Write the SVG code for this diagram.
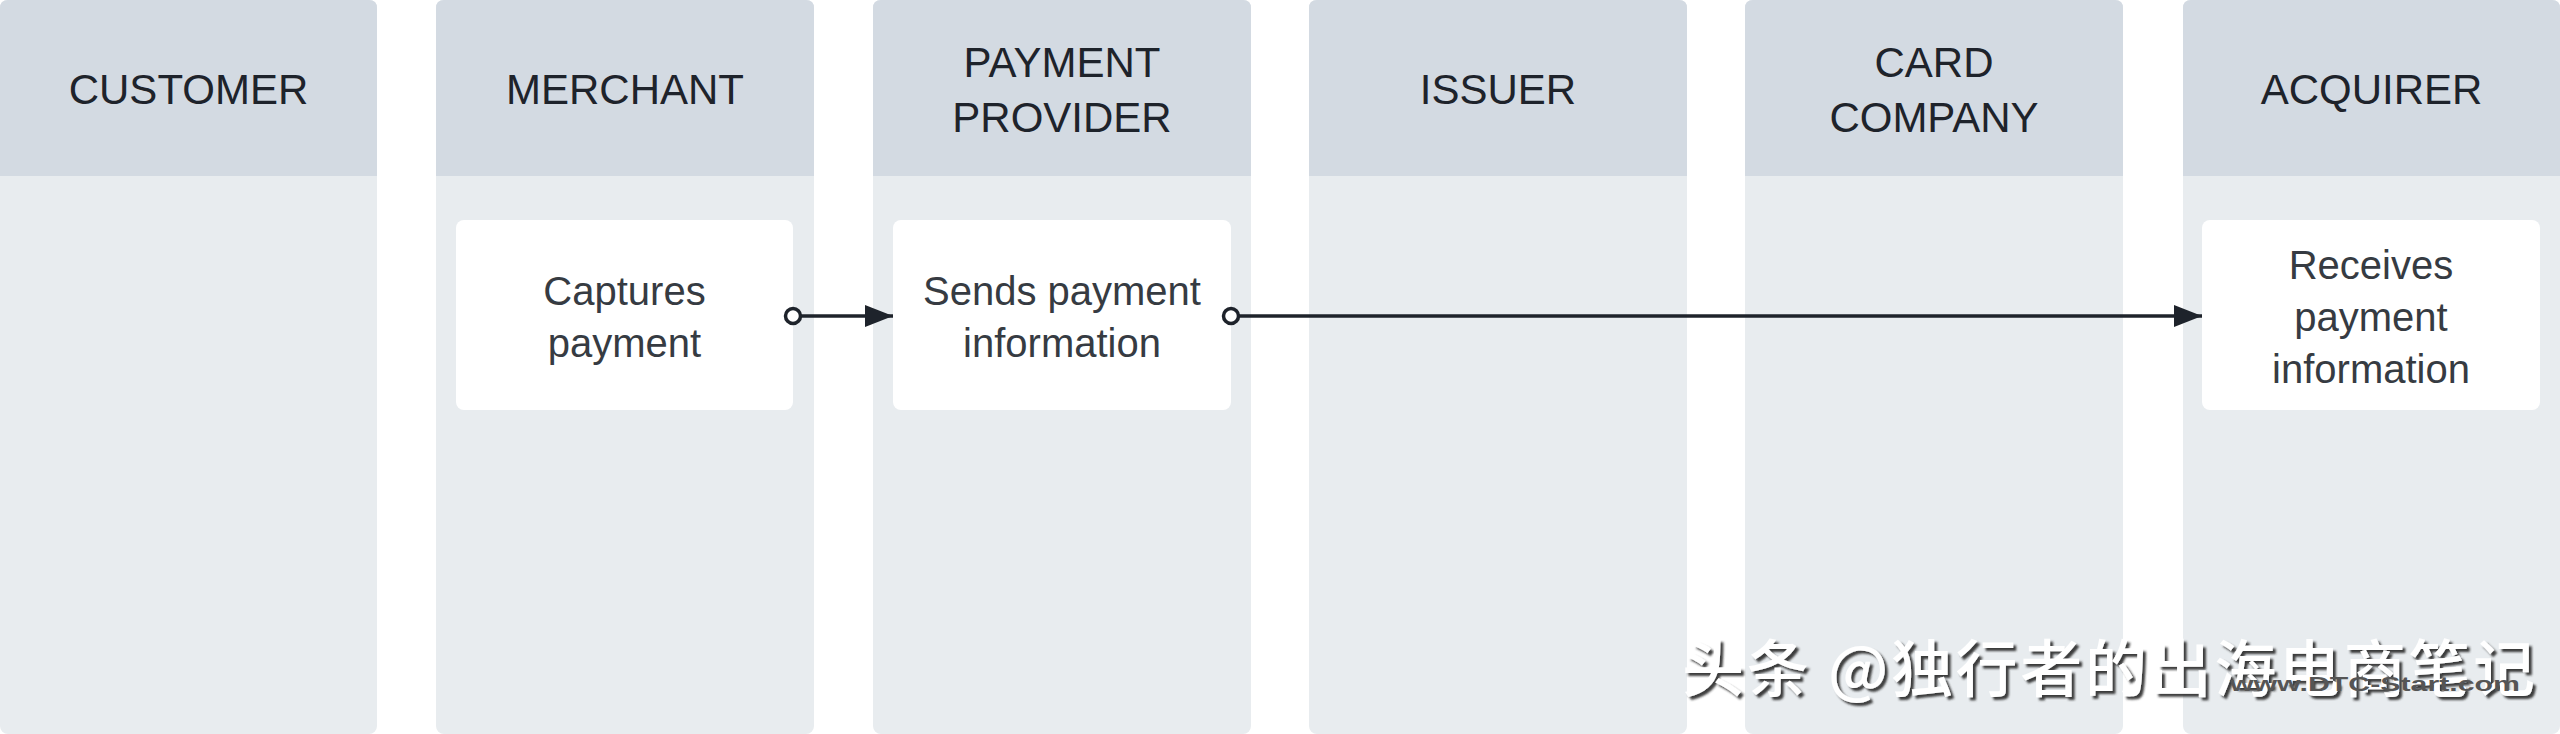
<svg xmlns="http://www.w3.org/2000/svg" width="2560" height="734" viewBox="0 0 2560 734">
  <style>
    .lane { fill: #E8ECEF; }
    .head { fill: #D3DAE2; }
    .htxt { font-family: "Liberation Sans", Arial, sans-serif; font-size: 42px; fill: #1E232B; text-anchor: middle; }
    .card { fill: #FFFFFF; }
    .ctxt { font-family: "Liberation Sans", Arial, sans-serif; font-size: 40px; fill: #363B42; text-anchor: middle; }
    .edge { stroke: #1E232B; stroke-width: 3.5; fill: none; }
    .dot { fill: #FFFFFF; stroke: #1E232B; stroke-width: 3.5; }
    .wm { font-family: "Noto Sans CJK SC", "Liberation Sans", sans-serif; font-size: 62px; font-weight: 500; fill: #FFFFFF; }
    .wm2 { font-family: "Liberation Sans", Arial, sans-serif; font-size: 21px; font-weight: 700; fill: #555555; }
  </style>
  <defs>
    <marker id="arrow" markerUnits="userSpaceOnUse" markerWidth="28" markerHeight="22" refX="28" refY="11" orient="auto">
      <path d="M0,0 L28,11 L0,22 Z" fill="#1E232B"/>
    </marker>
    <filter id="shadow" x="-5%" y="-20%" width="110%" height="150%">
      <feDropShadow dx="3" dy="3" stdDeviation="1" flood-color="#2A2A2A" flood-opacity="0.9"/>
    </filter>
  </defs>
  <rect width="2560" height="734" fill="#FFFFFF"/>

  <g id="lane-customer">
    <rect class="lane" x="0" y="0" width="377" height="734" rx="8"/>
    <path class="head" d="M0,176 V8 Q0,0 8,0 H369 Q377,0 377,8 V176 Z"/>
    <text class="htxt" x="188.5" y="104">CUSTOMER</text>
  </g>
  <g id="lane-merchant">
    <rect class="lane" x="436" y="0" width="378" height="734" rx="8"/>
    <path class="head" d="M436,176 V8 Q436,0 444,0 H806 Q814,0 814,8 V176 Z"/>
    <text class="htxt" x="625" y="104">MERCHANT</text>
  </g>
  <g id="lane-payment-provider">
    <rect class="lane" x="873" y="0" width="378" height="734" rx="8"/>
    <path class="head" d="M873,176 V8 Q873,0 881,0 H1243 Q1251,0 1251,8 V176 Z"/>
    <text class="htxt" x="1062" y="77">PAYMENT</text>
    <text class="htxt" x="1062" y="132">PROVIDER</text>
  </g>
  <g id="lane-issuer">
    <rect class="lane" x="1309" y="0" width="378" height="734" rx="8"/>
    <path class="head" d="M1309,176 V8 Q1309,0 1317,0 H1679 Q1687,0 1687,8 V176 Z"/>
    <text class="htxt" x="1498" y="104">ISSUER</text>
  </g>
  <g id="lane-card-company">
    <rect class="lane" x="1745" y="0" width="378" height="734" rx="8"/>
    <path class="head" d="M1745,176 V8 Q1745,0 1753,0 H2115 Q2123,0 2123,8 V176 Z"/>
    <text class="htxt" x="1934" y="77">CARD</text>
    <text class="htxt" x="1934" y="132">COMPANY</text>
  </g>
  <g id="lane-acquirer">
    <rect class="lane" x="2183" y="0" width="377" height="734" rx="8"/>
    <path class="head" d="M2183,176 V8 Q2183,0 2191,0 H2552 Q2560,0 2560,8 V176 Z"/>
    <text class="htxt" x="2371.5" y="104">ACQUIRER</text>
  </g>

  <g id="node-captures">
    <rect class="card" x="456" y="220" width="337" height="190" rx="8"/>
    <text class="ctxt" x="624.5" y="305">Captures</text>
    <text class="ctxt" x="624.5" y="357">payment</text>
  </g>
  <g id="node-sends">
    <rect class="card" x="893" y="220" width="338" height="190" rx="8"/>
    <text class="ctxt" x="1062" y="305">Sends payment</text>
    <text class="ctxt" x="1062" y="357">information</text>
  </g>
  <g id="node-receives">
    <rect class="card" x="2202" y="220" width="338" height="190" rx="8"/>
    <text class="ctxt" x="2371" y="279">Receives</text>
    <text class="ctxt" x="2371" y="331">payment</text>
    <text class="ctxt" x="2371" y="383">information</text>
  </g>

  <g id="connectors">
    <line class="edge" x1="793" y1="316" x2="893" y2="316" marker-end="url(#arrow)"/>
    <circle class="dot" cx="793" cy="316" r="7.5"/>
    <line class="edge" x1="1231" y1="316" x2="2202" y2="316" marker-end="url(#arrow)"/>
    <circle class="dot" cx="1231" cy="316" r="7.5"/>
  </g>

  <g id="watermark">
    <text class="wm" x="1682" y="692" textLength="853" lengthAdjust="spacing" filter="url(#shadow)">头条 @独行者的出海电商笔记</text>
    <text class="wm2" x="2230" y="691" textLength="290" lengthAdjust="spacingAndGlyphs">www.DTC-Start.com</text>
  </g>
</svg>
